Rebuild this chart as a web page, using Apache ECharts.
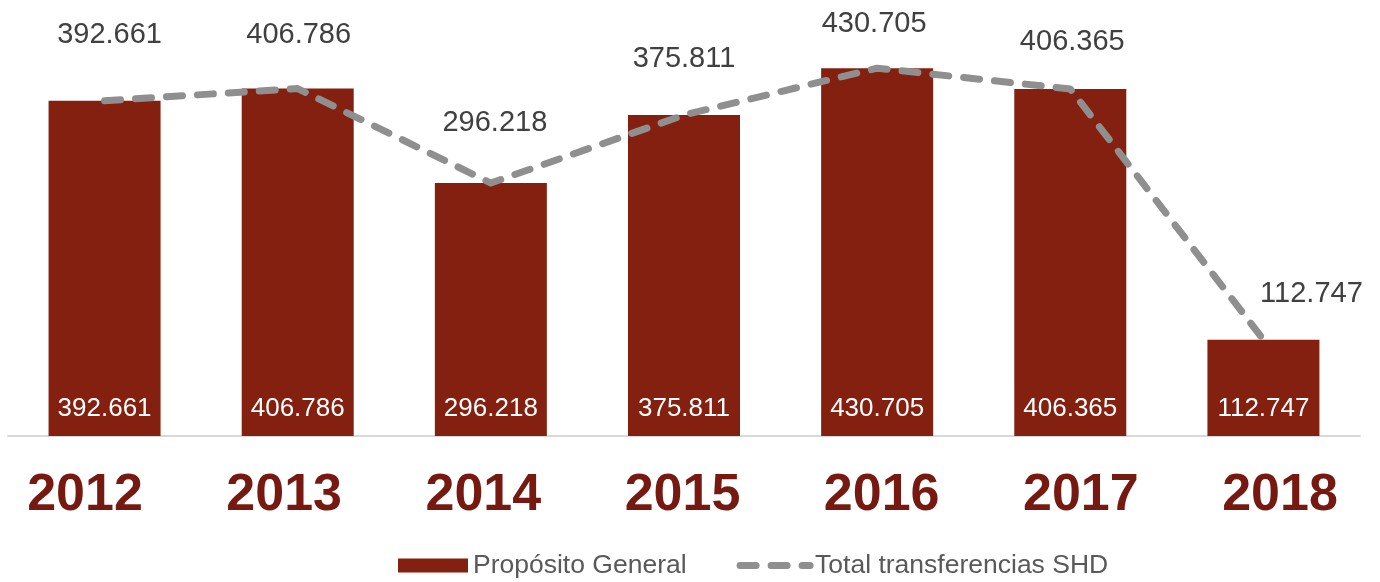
<!DOCTYPE html>
<html>
<head>
<meta charset="utf-8">
<script src="https://cdn.jsdelivr.net/npm/echarts@6/dist/echarts.min.js"></script>
<style>
  html, body { margin: 0; padding: 0; background: #fff; }
  #chart { width: 1380px; height: 582px; }
</style>
</head>
<body>
<div id="chart"></div>
<script>
// Transfers by year (values in millions)
const years = ['2012', '2013', '2014', '2015', '2016', '2017', '2018'];
const propositoGeneral = [392.661, 406.786, 296.218, 375.811, 430.705, 406.365, 112.747];
const totalTransferencias = [392.661, 406.786, 296.218, 375.811, 430.705, 406.365, 112.747];

// Hand-placed label lifts for the total line (px above the point) and horizontal nudges
const lineLabelLift = [51, 39, 45, 42, 30, 32, 31];
const lineLabelShiftX = [5, 1, 4, 0, -3, 2, 48];

const fmt = v => v.toFixed(3);
const FONT = 'Liberation Sans, Arial, sans-serif';

const chart = echarts.init(document.getElementById('chart'), null, { renderer: 'canvas' });

chart.setOption({
  animation: false,
  backgroundColor: '#ffffff',
  textStyle: { fontFamily: FONT },
  grid: [
    { left: 8, right: 20, top: 9, bottom: 146, containLabel: false },
    // a slightly wider, edge-aligned band that carries only the year labels
    { left: 85, right: 100, top: 9, bottom: 146, containLabel: false }
  ],
  legend: {
    left: 393,
    top: 547,
    itemWidth: 70,
    itemHeight: 14,
    itemGap: 50,
    textStyle: { fontSize: 26.5, color: '#595959', fontFamily: FONT },
    data: [
      { name: 'Propósito General', icon: 'rect' },
      {
        name: 'Total transferencias SHD',
        itemStyle: { opacity: 0 },
        lineStyle: { width: 7, type: [16, 15], cap: 'round', color: '#8f8f8f' }
      }
    ]
  },
  xAxis: [
    {
      type: 'category',
      data: years,
      gridIndex: 0,
      axisLine: { show: true, lineStyle: { color: '#d9d9d9', width: 2 } },
      axisTick: { show: false },
      axisLabel: { show: false }
    },
    {
      type: 'category',
      data: years,
      gridIndex: 1,
      boundaryGap: false,
      axisLine: { show: false },
      axisTick: { show: false },
      axisLabel: {
        fontSize: 52,
        fontWeight: 'bold',
        color: '#761910',
        margin: 34,
        fontFamily: FONT
      }
    }
  ],
  yAxis: [
    { type: 'value', gridIndex: 0, min: 0, max: 500, show: false, splitLine: { show: false } },
    { type: 'value', gridIndex: 1, min: 0, max: 500, show: false, splitLine: { show: false } }
  ],
  series: [
    {
      name: 'Propósito General',
      type: 'bar',
      data: propositoGeneral,
      barWidth: 112,
      itemStyle: { color: '#84200f' },
      label: {
        show: true,
        position: 'insideBottom',
        distance: 14,
        color: '#ffffff',
        fontSize: 26,
        formatter: p => fmt(p.value)
      },
      z: 2
    },
    {
      name: 'Total transferencias SHD',
      type: 'line',
      data: totalTransferencias.map((v, i) => ({
        value: v,
        label: { distance: lineLabelLift[i], offset: [lineLabelShiftX[i], 0] }
      })),
      symbol: 'circle',
      symbolSize: 0.1,
      itemStyle: { color: '#8f8f8f' },
      lineStyle: { color: '#8f8f8f', width: 7, type: [16, 15], cap: 'round', join: 'round' },
      label: {
        show: true,
        position: 'top',
        color: '#404040',
        fontSize: 29,
        formatter: p => fmt(p.value)
      },
      z: 3
    }
  ]
});
</script>
</body>
</html>
